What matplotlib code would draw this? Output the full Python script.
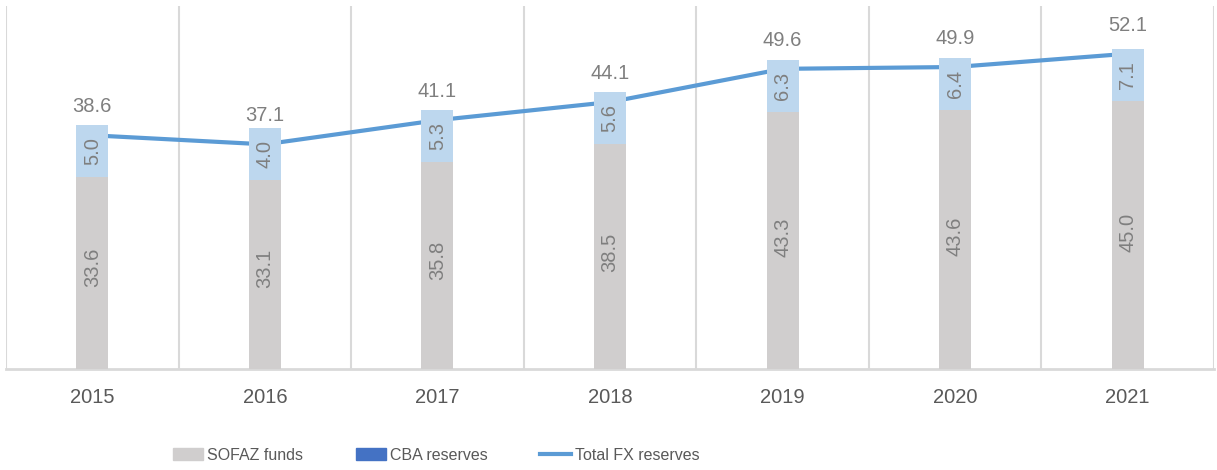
import matplotlib
matplotlib.use("Agg")
import matplotlib.pyplot as plt
from matplotlib.patches import Patch
from matplotlib.lines import Line2D
import numpy as np

years = ["2015", "2016", "2017", "2018", "2019", "2020", "2021"]
sofaz = [33.6, 33.1, 35.8, 38.5, 43.3, 43.6, 45.0]
cba = [5.0, 4.0, 5.3, 5.6, 6.3, 6.4, 7.1]
total = [38.6, 37.1, 41.1, 44.1, 49.6, 49.9, 52.1]

GREY = "#D0CECE"
LIGHT = "#BDD7EE"
DARK = "#4472C4"
LINE = "#5B9BD5"
LBL = "#7F7F7F"
TXT = "#595959"
GRID = "#D9D9D9"
FONT = ["Liberation Sans", "DejaVu Sans"]

W, H = 1217, 470
fig = plt.figure(figsize=(W / 100, H / 100), dpi=100)
ax = fig.add_axes([6 / W, (H - 368.5) / H, (1214 - 6) / W, (368.5 - 6) / H])
ax2 = ax.twinx()

x = np.arange(len(years))
bw = 0.185
box_h = 7.8  # label box height (bar axis units)

# line on primary axis
ax.set_xlim(-0.5, len(years) - 0.5)
ax.set_ylim(0, 60)
ax.plot(x, total, color=LINE, lw=3, solid_capstyle="round", zorder=2)
for xi, t in zip(x, total):
    ax.annotate(f"{t:.1f}", (xi, t), xytext=(0, 20.5), textcoords="offset points",
                ha="center", va="center", fontsize=14.5, color=LBL, family=FONT)

# bars on secondary axis
ax2.set_xlim(-0.5, len(years) - 0.5)
ax2.set_ylim(4.9, 59.2)
ax2.bar(x, sofaz, width=bw, color=GREY, zorder=2)
ax2.bar(x, cba, width=bw, bottom=sofaz, color=DARK, zorder=2)
ax2.bar(x, [box_h] * len(x), width=bw, bottom=sofaz, color=LIGHT, zorder=3)
for xi, s, c in zip(x, sofaz, cba):
    ax2.text(xi, s + box_h / 2, f"{c:.1f}", rotation=90, ha="center", va="center",
             fontsize=14.5, color=LBL, family=FONT, zorder=4)
    ax2.text(xi, s / 2, f"{s:.1f}", rotation=90, ha="center", va="center",
             fontsize=14.5, color=LBL, family=FONT, zorder=5, transform=ax.transData)

# grid / spines
for b in np.arange(-0.5, len(years), 1.0):
    ax.axvline(b, color=GRID, lw=1.5, zorder=0)
for a in (ax, ax2):
    for sp in a.spines.values():
        sp.set_visible(False)
    a.set_yticks([])
ax.spines["bottom"].set_visible(True)
ax.spines["bottom"].set_color(GRID)
ax.spines["bottom"].set_linewidth(2)
ax.set_xticks(x)
ax.set_xticklabels(years, fontsize=14.5, color=TXT, family=FONT)
ax.tick_params(axis="x", length=0, pad=14)
ax2.tick_params(axis="x", length=0, labelbottom=False)
ax.set_zorder(ax2.get_zorder() - 1)
ax.patch.set_visible(False)
ax2.patch.set_visible(False)

handles = [Patch(color=GREY, label="SOFAZ funds"),
           Patch(color=DARK, label="CBA reserves"),
           Line2D([0], [0], color=LINE, lw=3, label="Total FX reserves")]
leg = fig.legend(handles=handles, loc="center", bbox_to_anchor=(436 / W, 15 / H), ncol=3,
                 frameon=False, prop={"family": FONT, "size": 11.5},
                 handlelength=1.9, handleheight=0.75, handletextpad=0.25, columnspacing=3.3)
for t in leg.get_texts():
    t.set_color(TXT)

fig.savefig("out.png", dpi=100)
